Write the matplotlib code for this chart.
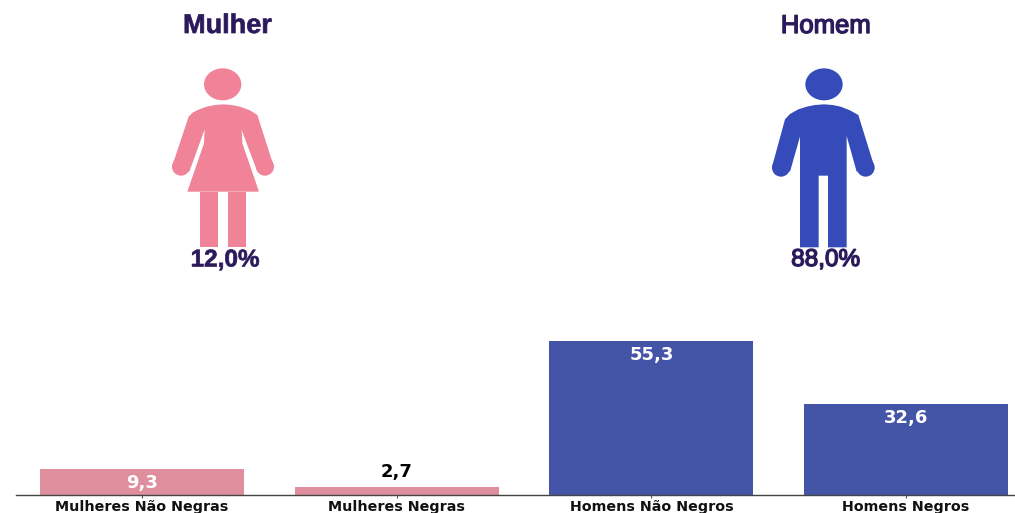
import matplotlib
matplotlib.use('Agg')
import matplotlib.pyplot as plt
import matplotlib.patheffects as pe
from matplotlib.patches import Polygon, Circle, Ellipse, Rectangle

categorias = ['Mulheres Não Negras', 'Mulheres Negras', 'Homens Não Negros', 'Homens Negros']
valores = [9.3, 2.7, 55.3, 32.6]
rotulos = ['9,3', '2,7', '55,3', '32,6']
cores_barras = ['#df8e9e', '#df8e9e', '#4455a8', '#4455a8']
cores_rotulos = ['white', 'black', 'white', 'white']

generos = ['Mulher', 'Homem']
percentuais = ['12,0%', '88,0%']

ROXO = '#2a1a5c'
ROSA = '#f08398'
AZUL = '#344bb9'

W, H = 1015, 513
fig = plt.figure(figsize=(W / 100, H / 100), dpi=100)

# bars
ax = fig.add_axes([16 / W, 18 / H, (W - 16) / W, 195 / H])
ax.bar(range(4), valores, width=0.8, color=cores_barras)
ax.set_xlim(-0.495, 3.428)
ax.set_ylim(0, 70)
ax.set_yticks([])
ax.set_xticks(range(4))
ax.set_xticklabels(categorias, fontsize=10.25, fontweight='bold', color='#111111')
ax.tick_params(axis='x', length=2, width=0.8, pad=1.5, color='#555555')
for s in ['top', 'left', 'right']:
    ax.spines[s].set_visible(False)
ax.spines['bottom'].set_color('#444444')
ax.spines['bottom'].set_linewidth(1.0)

for i, v in enumerate(valores):
    # small bars get the label on top
    dy = 11 if v < 5 else -10
    ax.annotate(rotulos[i], (i, v), xytext=(0, dy), textcoords='offset points',
                ha='center', va='center', fontsize=13, fontweight='bold',
                color=cores_rotulos[i])

# icons, drawn in pixel coordinates of the image
ov = fig.add_axes([0, 0, 1, 1])
ov.set_xlim(0, W)
ov.set_ylim(H, 0)
ov.axis('off')


def pts(lista, x0):
    # coords measured on a 3x crop with top left at (x0, 0)
    return [(x0 + a / 3, b / 3) for a, b in lista]


def add_shape(lista, x0, cor):
    ov.add_patch(Polygon(pts(lista, x0), closed=True, fc=cor, ec='none'))


def add_circle(x, y, r, x0, cor):
    ov.add_patch(Circle((x0 + x / 3, y / 3), r / 3, fc=cor, ec='none'))


mulher = [(116, 350), (128, 338), (145, 329), (170, 320), (195, 315), (220, 313), (245, 315),
          (270, 320), (300, 331), (322, 345), (370, 495), (322, 515), (275, 390), (277, 430),
          (327, 575), (112, 575), (162, 430), (164, 388), (118, 515), (67, 497)]
add_shape(mulher, 150, ROSA)
add_circle(93, 500, 27, 150, ROSA)
add_circle(345, 500, 27, 150, ROSA)
ov.add_patch(Ellipse((150 + 218 / 3, 253 / 3), 112 / 3, 96 / 3, fc=ROSA, ec='none'))
ov.add_patch(Rectangle((150 + 150 / 3, 575 / 3), 55 / 3, 167 / 3, fc=ROSA, ec='none'))
ov.add_patch(Rectangle((150 + 234 / 3, 575 / 3), 55 / 3, 167 / 3, fc=ROSA, ec='none'))

homem = [(105, 358), (120, 342), (145, 328), (170, 320), (195, 315), (222, 313), (248, 315),
         (272, 320), (300, 331), (325, 345), (373, 500), (320, 515), (290, 408), (290, 742),
         (234, 742), (234, 527), (206, 527), (206, 742), (150, 742), (150, 410), (120, 515),
         (67, 497)]
add_shape(homem, 750, AZUL)
add_circle(93, 503, 27, 750, AZUL)
add_circle(347, 503, 27, 750, AZUL)
ov.add_patch(Ellipse((750 + 222 / 3, 253 / 3), 112 / 3, 96 / 3, fc=AZUL, ec='none'))

# titles and percents, the stroke thickens the letters
grosso = [pe.Stroke(linewidth=0.5, foreground=ROXO)]
fino = [pe.Stroke(linewidth=1.0, foreground=ROXO)]
ov.text(227.5, 26, generos[0], ha='center', va='center', fontsize=19.5, fontweight='bold',
        family='Liberation Sans', color=ROXO, path_effects=grosso)
ov.text(826, 26, generos[1], ha='center', va='center', fontsize=18.5, family='Liberation Sans',
        color=ROXO, path_effects=fino)
ov.text(225, 260, percentuais[0], ha='center', va='center', fontsize=17.5, fontweight='bold',
        family='Liberation Sans', color=ROXO, path_effects=grosso)
ov.text(825.5, 260, percentuais[1], ha='center', va='center', fontsize=17.5, family='Liberation Sans',
        color=ROXO, path_effects=fino)

fig.savefig('out.png', dpi=100)
